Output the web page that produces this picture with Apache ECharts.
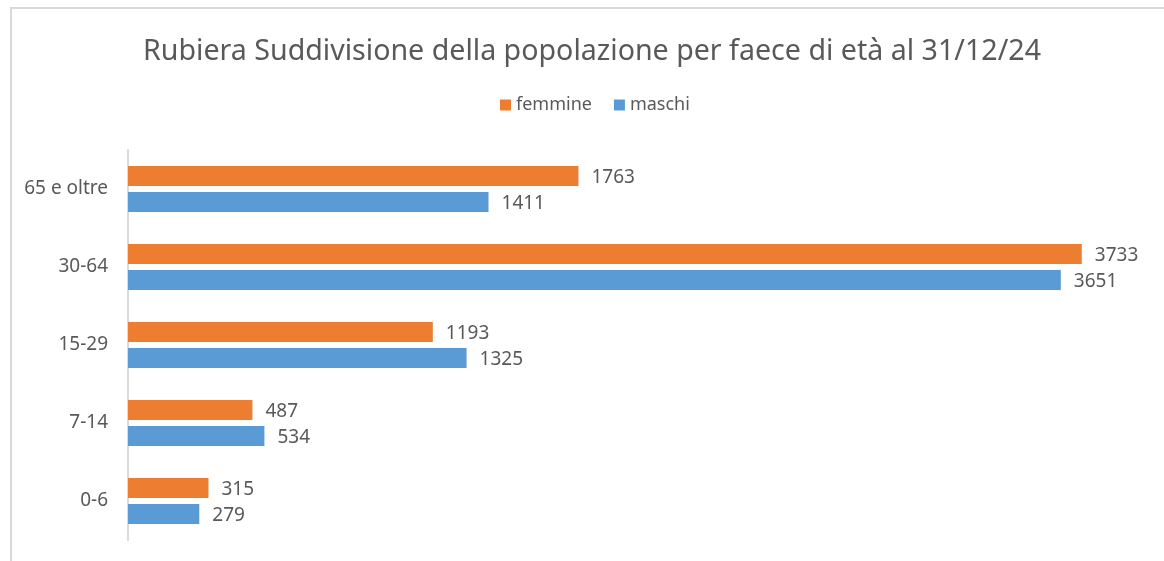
<!DOCTYPE html>
<html>
<head>
<meta charset="utf-8">
<title>Rubiera popolazione</title>
<script src="https://cdn.jsdelivr.net/npm/echarts@6/dist/echarts.min.js"></script>
<style>
  html, body { margin: 0; padding: 0; background: #fff; }
  #main { width: 1164px; height: 561px; }
</style>
</head>
<body>
<div id="main"></div>
<script>
// dati
var fasceEta = ['0-6', '7-14', '15-29', '30-64', '65 e oltre'];
var femmine = [315, 487, 1193, 3733, 1763];
var maschi = [279, 534, 1325, 3651, 1411];
var nomiSerie = ['femmine', 'maschi'];

var coloreTesto = '#595959';
var font = 'Noto Sans';

var myChart = echarts.init(document.getElementById('main'));

var etichetta = {
    show: true,
    position: 'right',
    distance: 13,
    offset: [0, 2],
    color: coloreTesto,
    fontFamily: font,
    fontSize: 19
};

var option = {
    animation: false,
    title: {
        text: 'Rubiera Suddivisione della popolazione per faece di età al 31/12/24',
        left: 138,
        top: 32,
        textStyle: { color: coloreTesto, fontFamily: font, fontSize: 28.6, fontWeight: 'normal' }
    },
    legend: {
        data: nomiSerie,
        top: 91,
        left: 495,
        icon: 'rect',
        itemWidth: 11,
        itemHeight: 11,
        itemGap: 22,
        textStyle: { color: coloreTesto, fontFamily: font, fontSize: 18 }
    },
    grid: { left: 128, right: 14, top: 150, bottom: 21, containLabel: false },
    xAxis: {
        type: 'value',
        min: 0,
        max: 4000,
        show: false
    },
    yAxis: {
        type: 'category',
        data: fasceEta,
        axisLine: { lineStyle: { color: '#d9d9d9', width: 2 } },
        axisTick: { show: false },
        axisLabel: { color: coloreTesto, fontFamily: font, fontSize: 19, margin: 20 }
    },
    series: [
        {
            name: 'femmine',
            type: 'bar',
            data: femmine,
            barWidth: 20,
            barGap: '30%',
            itemStyle: { color: '#ED7D31' },
            label: etichetta
        },
        {
            name: 'maschi',
            type: 'bar',
            data: maschi,
            barWidth: 20,
            barGap: '30%',
            itemStyle: { color: '#5B9BD5' },
            label: etichetta
        }
    ],
    // bordo dell'area del grafico (solo sinistra e sopra visibili)
    graphic: [
        { type: 'rect', shape: { x: 10, y: 7, width: 1154, height: 2 }, style: { fill: '#d9d9d9' } },
        { type: 'rect', shape: { x: 10, y: 7, width: 2, height: 554 }, style: { fill: '#d9d9d9' } }
    ]
};

myChart.setOption(option);
</script>
</body>
</html>
